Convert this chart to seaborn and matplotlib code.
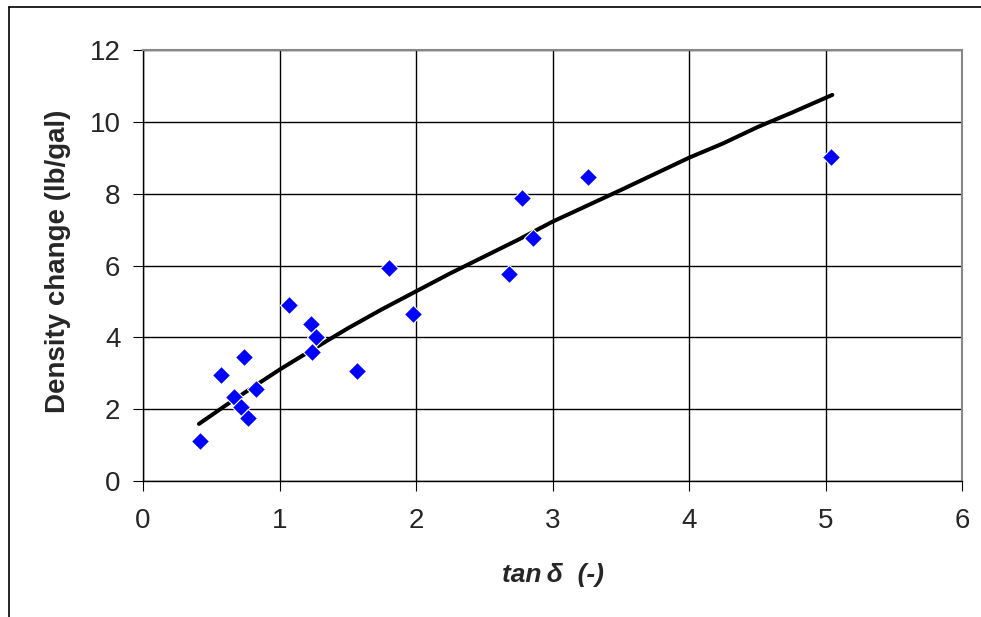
import matplotlib
matplotlib.use("Agg")
import matplotlib.pyplot as plt
from matplotlib.lines import Line2D
import seaborn as sns
import pandas as pd

# measured points
tan_delta = [0.42, 0.57, 0.67, 0.72, 0.74, 0.77, 0.83, 1.07, 1.23, 1.24, 1.27, 1.57,
             1.80, 1.98, 2.68, 2.78, 2.86, 3.26, 5.04]
density_change = [1.11, 2.95, 2.35, 2.05, 3.45, 1.76, 2.55, 4.90, 4.36, 3.58, 4.02, 3.07,
                  5.92, 4.64, 5.76, 7.87, 6.77, 8.47, 9.02]

# fitted curve
fit_x = [0.41, 0.6, 0.8, 1.0, 1.25, 1.5, 1.75, 2.0, 2.25, 2.5, 2.75, 3.0, 3.25,
         3.5, 3.75, 4.0, 4.25, 4.5, 4.75, 5.05]
fit_y = [1.59, 2.09, 2.60, 3.10, 3.68, 4.25, 4.78, 5.28, 5.78, 6.25, 6.72, 7.22, 7.66,
         8.10, 8.55, 9.00, 9.40, 9.85, 10.25, 10.75]

x_ticks = [0, 1, 2, 3, 4, 5, 6]
y_ticks = [0, 2, 4, 6, 8, 10, 12]

sns.set_theme(style="white")
plt.rcParams['font.family'] = ['Liberation Sans', 'DejaVu Sans']

fig = plt.figure(figsize=(9.81, 6.17), dpi=100)
ax = fig.add_axes([143/981, 1-481/617, (962-143)/981, (481-50)/617])

pts = pd.DataFrame({"x": tan_delta, "y": density_change})
fit = pd.DataFrame({"x": fit_x, "y": fit_y})

sns.lineplot(data=fit, x="x", y="y", ax=ax, color="black", linewidth=2.9,
             sort=False, zorder=3)
sns.scatterplot(data=pts, x="x", y="y", ax=ax, marker="D", color="#0000ff",
                s=85, edgecolor="white", linewidth=0.8, zorder=4)

ax.set_xlim(0, 6)
ax.set_ylim(0, 12)
ax.set_xticks(x_ticks)
ax.set_yticks(y_ticks)
ax.grid(True, color="black", linewidth=1.0)
ax.set_axisbelow(True)
for s in ["left", "bottom"]:
    ax.spines[s].set_color("black")
    ax.spines[s].set_linewidth(1.0)
for s in ["top", "right"]:
    ax.spines[s].set_color("#888888")
    ax.spines[s].set_linewidth(1.5)
ax.tick_params(axis="both", direction="out", length=7.2, width=0.8, color="black",
               labelsize=20, left=True, bottom=True)
ax.tick_params(axis="y", pad=9)
ax.tick_params(axis="x", pad=12)
ax.set_xlabel("tan\u2009δ  (-)", fontsize=19, fontweight="bold", style="italic", va="center")
ax.set_ylabel("Density change (lb/gal)", fontsize=20, fontweight="bold", va="center")
ax.xaxis.set_label_coords(0.5, -0.218)
ax.yaxis.set_label_coords(-0.104, 0.51)

# outer frame lines (top and left)
fig.add_artist(Line2D([9/981, 1], [1-7/617, 1-7/617], transform=fig.transFigure,
                      color="black", linewidth=1.2))
fig.add_artist(Line2D([9/981, 9/981], [0, 1-7/617], transform=fig.transFigure,
                      color="black", linewidth=1.2))

fig.savefig("out.png", dpi=100)
